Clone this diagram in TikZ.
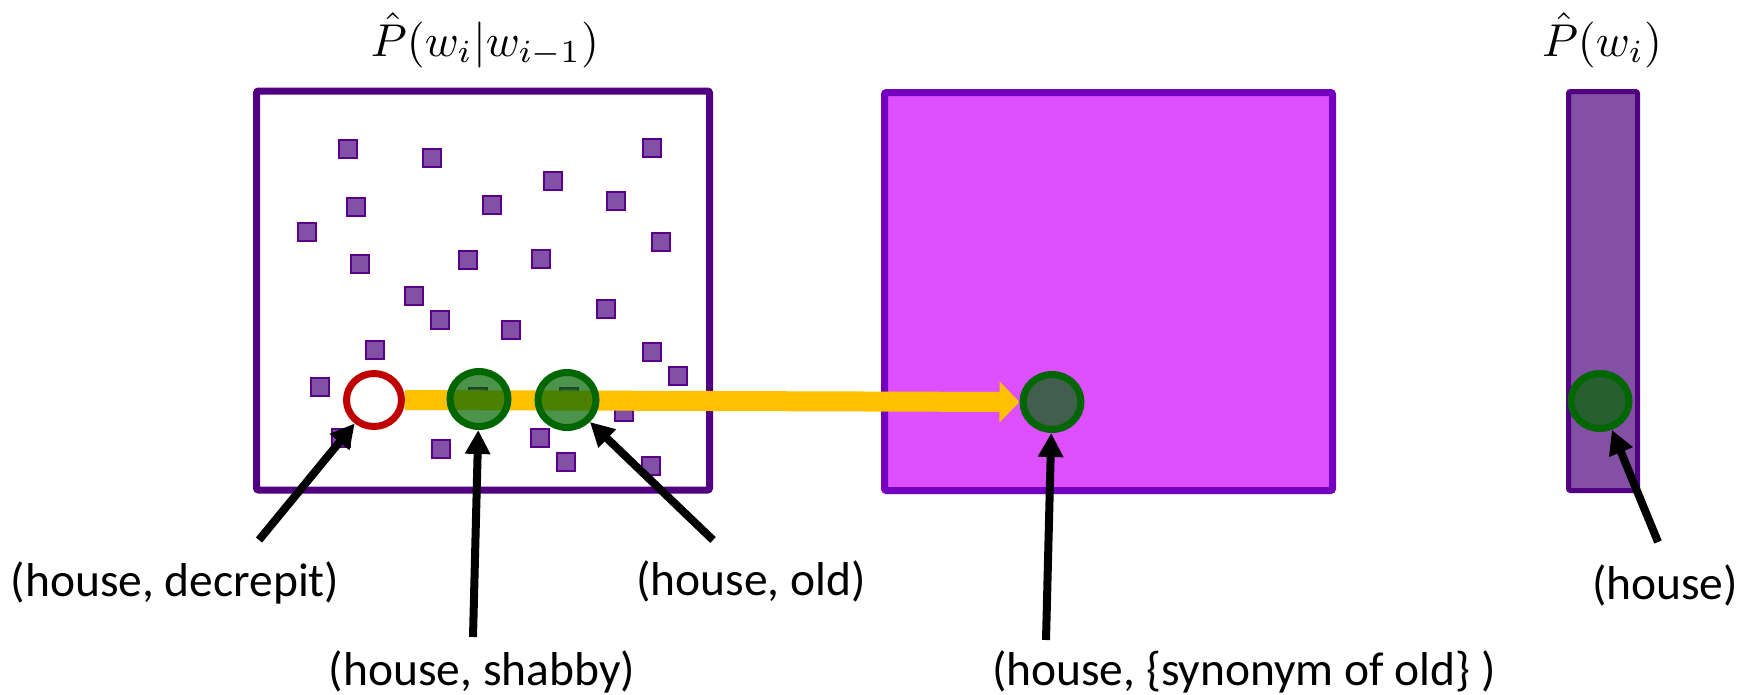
\documentclass[tikz,border=0pt]{standalone}
\usepackage{fontspec}
\setmainfont{Carlito}
\usetikzlibrary{arrows.meta,shapes.geometric}
\definecolor{boxborder}{RGB}{80,0,128}
\definecolor{sqfill}{RGB}{130,80,165}
\definecolor{sqborder}{RGB}{90,0,140}
\definecolor{magfill}{RGB}{221,79,255}
\definecolor{magborder}{RGB}{115,0,192}
\definecolor{barfill}{RGB}{132,80,166}
\definecolor{dgreen}{RGB}{0,102,0}
\definecolor{dred}{RGB}{192,0,0}
\definecolor{ayellow}{RGB}{255,192,0}
\tikzset{
  bigbox/.style={draw=boxborder, line width=7pt, fill=white, rounded corners=2pt, inner sep=0pt},
  sq/.style={draw=sqborder, line width=1.6pt, fill=sqfill, minimum size=18pt, inner sep=0pt},
  redc/.style={ellipse, draw=dred, line width=7pt, fill=white, minimum width=55pt, minimum height=53pt, inner sep=0pt},
  greenc/.style={ellipse, draw=dgreen, line width=7pt, fill=dgreen, fill opacity=0.7, minimum width=58pt, minimum height=55pt, inner sep=0pt},
  lbl/.style={font=\fontsize{47.5}{57}\selectfont, inner sep=0pt},
  ttl/.style={scale=4.6, inner sep=0pt},
  ptr/.style={line width=8pt, -{Triangle[width=24pt,length=24pt]}},
  flow/.style={draw=ayellow, line width=20pt, -{Triangle[width=40pt,length=20pt]}, color=ayellow}
}
\begin{document}
\begin{tikzpicture}[x=1pt,y=-1pt]
\useasboundingbox (0,0) rectangle (1748,694);
% boxes
\node[bigbox, minimum width=453pt, minimum height=399pt] (left) at (483,290.5) {};
\node[bigbox, draw=magborder, fill=magfill, minimum width=448pt, minimum height=398pt] (mid) at (1108.5,291.5) {};
\node[bigbox, line width=5pt, fill=barfill, minimum width=69pt, minimum height=399pt] (bar) at (1603,291) {};
% titles
\node[ttl] (t1) at (485,40) {$\hat{P}(w_i|w_{i-1})$};
\node[ttl] (t2) at (1602,40) {$\hat{P}(w_i)$};
% squares
\foreach \x/\y [count=\k] in {348/149,432/158,652/148,553/181,356/207,492/205,616/201,307/232,661/242,360/264,468/260,541/259,414/296,440/320,511/330,606/309,375/350,652/352,678/376,320/387,624/412,341/438,441/449,540/438,566/462,651/466,478/397,569/397}
  \node[sq] (s\k) at (\x,\y) {};
% circles (positions)
\node[redc] (dec) at (374,400) {};
\coordinate (midc) at (1052,402);
% flow arrow
\draw[flow] (dec.east) -- ([xshift=-32.5pt]midc);
% green circles
\node[greenc] (shab) at (479,399) {};
\node[greenc] (old) at (567,400) {};
\node[greenc] (syn) at (midc) {};
\node[greenc] (hs) at (1600,401) {};
% labels
\node[lbl] (l1) at (175,583) {(house, decrepit)};
\node[lbl] (l2) at (482,672) {(house, shabby)};
\node[lbl] (l3) at (751,581) {(house, old)};
\node[lbl] (l4) at (1244,672) {(house, \{synonym of old\} )};
\node[lbl] (l5) at (1665,585) {(house)};
% pointer tails
\coordinate (a1) at (259,540);
\coordinate (a2) at (473,637);
\coordinate (a3) at (713,540);
\coordinate (a4) at (1046,640);
\coordinate (a5) at (1658,542);
\draw[ptr] (a1) -- (dec);
\draw[ptr] (a2) -- (shab);
\draw[ptr] (a3) -- (old);
\draw[ptr] (a4) -- (syn);
\draw[ptr] (a5) -- (hs);
\end{tikzpicture}
\end{document}
